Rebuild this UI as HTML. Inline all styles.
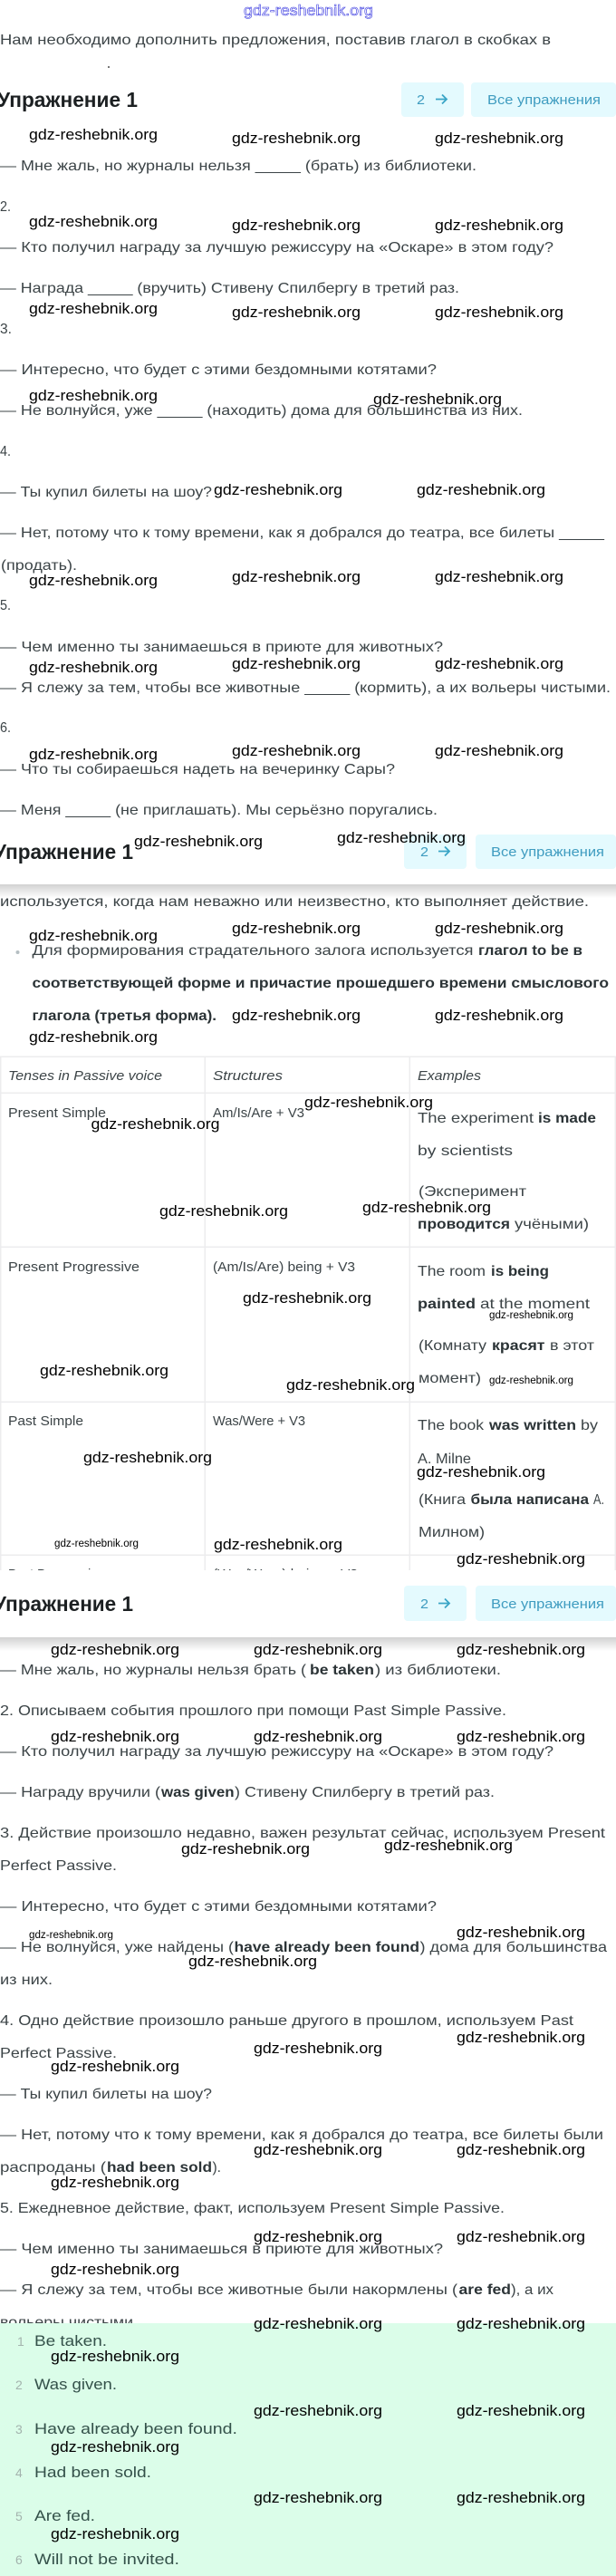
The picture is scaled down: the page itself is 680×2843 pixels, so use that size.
<!DOCTYPE html>
<html lang="ru"><head><meta charset="utf-8"><title>Упражнение 1</title>
<style>
html,body{margin:0;padding:0;background:#fff}
svg{display:block;font-family:"Liberation Sans",sans-serif}
.t{font-size:16px;fill:#3c4447}
.b{font-size:16px;font-weight:bold;fill:#2b3336}
.h{font-size:23px;font-weight:bold;fill:#1c2022}
.n{font-size:15px;fill:#3f9cc0}
.i{font-size:14.5px;font-style:italic;fill:#3c4447}
.c{font-size:14.5px;fill:#3c4447}
.g{font-size:17px;fill:#34514a}
.k{font-size:14px;fill:#a3b3ad}
.w{font-size:17px;fill:#000}
.s{font-size:11.5px;fill:#000}
.l{fill:#ececee}
.bx{fill:#e4fafe}
</style></head><body>
<svg xmlns="http://www.w3.org/2000/svg" width="680" height="2843" viewBox="0 0 680 2843">
<defs>
<linearGradient id="sh" x1="0" y1="0" x2="0" y2="1"><stop offset="0" stop-color="#d2d2d2"/><stop offset="1" stop-color="#fff"/></linearGradient>
<clipPath id="tc"><rect x="0" y="1160" width="680" height="573"/></clipPath>
<clipPath id="gc"><rect x="0" y="2540" width="680" height="24"/></clipPath>
</defs>
<rect width="680" height="2843" fill="#fff"/>
<text x="269" y="17" font-size="17" fill="#fff" stroke="#3a3ae0" stroke-width=".6" textLength="143" lengthAdjust="spacingAndGlyphs">gdz-reshebnik.org</text>

<text class="t" x="0" y="49" textLength="608" lengthAdjust="spacingAndGlyphs">Нам необходимо дополнить предложения, поставив глагол в скобках в</text>
<rect x="119" y="73" width="2" height="2" fill="#777"/>

<text class="h" x="-3" y="118" textLength="155" lengthAdjust="spacingAndGlyphs">Упражнение 1</text>
<rect class="bx" x="443" y="91" width="69" height="38" rx="4"/><rect class="bx" x="520" y="91" width="160" height="38" rx="4"/>
<text class="n" x="460" y="115" textLength="9" lengthAdjust="spacingAndGlyphs">2</text>
<path d="M481 109.500H493M488 104.500L493 109.500L488 114.500" fill="none" stroke="#3aa5c6" stroke-width="1.800"/>
<text class="n" x="538" y="115" textLength="125" lengthAdjust="spacingAndGlyphs">Все упражнения</text>

<text class="t" x="0" y="188" textLength="526" lengthAdjust="spacingAndGlyphs">— Мне жаль, но журналы нельзя _____ (брать) из библиотеки.</text>
<text class="t" x="0" y="233" textLength="12" lengthAdjust="spacingAndGlyphs">2.</text>
<text class="t" x="0" y="278" textLength="611" lengthAdjust="spacingAndGlyphs">— Кто получил награду за лучшую режиссуру на «Оскаре» в этом году?</text>
<text class="t" x="0" y="323" textLength="507" lengthAdjust="spacingAndGlyphs">— Награда _____ (вручить) Стивену Спилбергу в третий раз.</text>
<text class="t" x="0" y="368" textLength="13" lengthAdjust="spacingAndGlyphs">3.</text>
<text class="t" x="0" y="413" textLength="482" lengthAdjust="spacingAndGlyphs">— Интересно, что будет с этими бездомными котятами?</text>
<text class="t" x="0" y="458" textLength="577" lengthAdjust="spacingAndGlyphs">— Не волнуйся, уже _____ (находить) дома для большинства из них.</text>
<text class="t" x="0" y="503" textLength="12" lengthAdjust="spacingAndGlyphs">4.</text>
<text class="t" x="0" y="548" textLength="234" lengthAdjust="spacingAndGlyphs">— Ты купил билеты на шоу?</text>
<text class="t" x="0" y="593" textLength="667" lengthAdjust="spacingAndGlyphs">— Нет, потому что к тому времени, как я добрался до театра, все билеты _____</text>
<text class="t" x="1" y="629" textLength="84" lengthAdjust="spacingAndGlyphs">(продать).</text>
<text class="t" x="0" y="673" textLength="12" lengthAdjust="spacingAndGlyphs">5.</text>
<text class="t" x="0" y="719" textLength="489" lengthAdjust="spacingAndGlyphs">— Чем именно ты занимаешься в приюте для животных?</text>
<text class="t" x="0" y="764" textLength="674" lengthAdjust="spacingAndGlyphs">— Я слежу за тем, чтобы все животные _____ (кормить), а их вольеры чистыми.</text>
<text class="t" x="0" y="808" textLength="12" lengthAdjust="spacingAndGlyphs">6.</text>
<text class="t" x="0" y="854" textLength="436" lengthAdjust="spacingAndGlyphs">— Что ты собираешься надеть на вечеринку Сары?</text>
<text class="t" x="0" y="899" textLength="483" lengthAdjust="spacingAndGlyphs">— Меня _____ (не приглашать). Мы серьёзно поругались.</text>

<text class="h" x="-7" y="948" textLength="154" lengthAdjust="spacingAndGlyphs">Упражнение 1</text>
<rect class="bx" x="446" y="921" width="69" height="38" rx="4"/><rect class="bx" x="525" y="921" width="155" height="38" rx="4"/>
<text class="n" x="464" y="945" textLength="9" lengthAdjust="spacingAndGlyphs">2</text>
<path d="M484 939.500H496M491 934.500L496 939.500L491 944.500" fill="none" stroke="#3aa5c6" stroke-width="1.800"/>
<text class="n" x="542" y="945" textLength="125" lengthAdjust="spacingAndGlyphs">Все упражнения</text>
<rect x="0" y="976" width="680" height="15" fill="url(#sh)"/>

<text class="t" x="0" y="1000" textLength="650" lengthAdjust="spacingAndGlyphs">используется, когда нам неважно или неизвестно, кто выполняет действие.</text>
<circle cx="19.500" cy="1051" r="2" fill="#b5bec2"/>
<text class="t" x="35.500" y="1054" textLength="487" lengthAdjust="spacingAndGlyphs">Для формирования страдательного залога используется</text>
<text class="b" x="528" y="1054" textLength="115" lengthAdjust="spacingAndGlyphs">глагол to be в</text>
<text class="b" x="35.500" y="1090" textLength="636.500" lengthAdjust="spacingAndGlyphs">соответствующей форме и причастие прошедшего времени смыслового</text>
<text class="b" x="35.500" y="1126" textLength="203.500" lengthAdjust="spacingAndGlyphs">глагола (третья форма).</text>

<g clip-path="url(#tc)">
<rect class="l" x="0" y="1165.500" width="680" height="1.500"/>
<rect class="l" x="0" y="1205.500" width="680" height="1.500"/>
<rect class="l" x="0" y="1375.500" width="680" height="1.500"/>
<rect class="l" x="0" y="1546.500" width="680" height="1.500"/>
<rect class="l" x="0" y="1715.500" width="680" height="1.500"/>
<rect class="l" x="0" y="1166" width="1.500" height="567"/>
<rect class="l" x="225.500" y="1166" width="1.500" height="567"/>
<rect class="l" x="451.500" y="1166" width="1.500" height="567"/>
<rect class="l" x="678.500" y="1166" width="1.500" height="567"/>
<text class="i" x="9" y="1192" textLength="170" lengthAdjust="spacingAndGlyphs">Tenses in Passive voice</text>
<text class="i" x="235" y="1192" textLength="77" lengthAdjust="spacingAndGlyphs">Structures</text>
<text class="i" x="461" y="1192" textLength="70" lengthAdjust="spacingAndGlyphs">Examples</text>
<text class="c" x="9" y="1233" textLength="108" lengthAdjust="spacingAndGlyphs">Present Simple</text>
<text class="c" x="235" y="1233" textLength="101" lengthAdjust="spacingAndGlyphs">Am/Is/Are + V3</text>
<text class="t" x="461" y="1239" textLength="128" lengthAdjust="spacingAndGlyphs">The experiment</text>
<text class="b" x="594" y="1239" textLength="64" lengthAdjust="spacingAndGlyphs">is made</text>
<text class="t" x="461" y="1275" textLength="105" lengthAdjust="spacingAndGlyphs">by scientists</text>
<text class="t" x="462" y="1320" textLength="119" lengthAdjust="spacingAndGlyphs">(Эксперимент</text>
<text class="b" x="461" y="1356" textLength="102" lengthAdjust="spacingAndGlyphs">проводится</text>
<text class="t" x="568" y="1356" textLength="82" lengthAdjust="spacingAndGlyphs">учёными)</text>
<text class="c" x="9" y="1403" textLength="145" lengthAdjust="spacingAndGlyphs">Present Progressive</text>
<text class="c" x="235" y="1403" textLength="157" lengthAdjust="spacingAndGlyphs">(Am/Is/Are) being + V3</text>
<text class="t" x="461" y="1408" textLength="75" lengthAdjust="spacingAndGlyphs">The room</text>
<text class="b" x="542" y="1408" textLength="64" lengthAdjust="spacingAndGlyphs">is being</text>
<text class="b" x="461" y="1444" textLength="64" lengthAdjust="spacingAndGlyphs">painted</text>
<text class="t" x="530" y="1444" textLength="121" lengthAdjust="spacingAndGlyphs">at the moment</text>
<text class="t" x="462" y="1490" textLength="75" lengthAdjust="spacingAndGlyphs">(Комнату</text>
<text class="b" x="543" y="1490" textLength="58.500" lengthAdjust="spacingAndGlyphs">красят</text>
<text class="t" x="607" y="1490" textLength="49" lengthAdjust="spacingAndGlyphs">в этот</text>
<text class="t" x="462" y="1526" textLength="69" lengthAdjust="spacingAndGlyphs">момент)</text>
<text class="c" x="9" y="1573" textLength="83" lengthAdjust="spacingAndGlyphs">Past Simple</text>
<text class="c" x="235" y="1573" textLength="102" lengthAdjust="spacingAndGlyphs">Was/Were + V3</text>
<text class="t" x="461" y="1578" textLength="73" lengthAdjust="spacingAndGlyphs">The book</text>
<text class="b" x="540" y="1578" textLength="96" lengthAdjust="spacingAndGlyphs">was written</text>
<text class="t" x="641" y="1578" textLength="19" lengthAdjust="spacingAndGlyphs">by</text>
<text class="t" x="461" y="1615" textLength="59" lengthAdjust="spacingAndGlyphs">A. Milne</text>
<text class="t" x="462" y="1660" textLength="52" lengthAdjust="spacingAndGlyphs">(Книга</text>
<text class="b" x="519.500" y="1660" textLength="130.500" lengthAdjust="spacingAndGlyphs">была написана</text>
<text class="t" x="655" y="1660" textLength="12" lengthAdjust="spacingAndGlyphs">А.</text>
<text class="t" x="462" y="1696" textLength="73" lengthAdjust="spacingAndGlyphs">Милном)</text>
<text class="c" x="9" y="1742" textLength="106" lengthAdjust="spacingAndGlyphs">Past Progressive</text>
<text class="c" x="235" y="1742" textLength="160" lengthAdjust="spacingAndGlyphs">(Was/Were) being + V3</text>
</g>

<text class="h" x="-7" y="1778" textLength="154" lengthAdjust="spacingAndGlyphs">Упражнение 1</text>
<rect class="bx" x="446" y="1750" width="69" height="39" rx="4"/><rect class="bx" x="525" y="1750" width="155" height="39" rx="4"/>
<text class="n" x="464" y="1775" textLength="9" lengthAdjust="spacingAndGlyphs">2</text>
<path d="M484 1769.500H496M491 1764.500L496 1769.500L491 1774.500" fill="none" stroke="#3aa5c6" stroke-width="1.800"/>
<text class="n" x="542" y="1775" textLength="125" lengthAdjust="spacingAndGlyphs">Все упражнения</text>
<rect x="0" y="1807" width="680" height="15" fill="url(#sh)"/>

<text class="t" x="0" y="1848" textLength="338" lengthAdjust="spacingAndGlyphs">— Мне жаль, но журналы нельзя брать (</text>
<text class="b" x="342" y="1848" textLength="71" lengthAdjust="spacingAndGlyphs">be taken</text>
<text class="t" x="414" y="1848" textLength="139" lengthAdjust="spacingAndGlyphs">) из библиотеки.</text>
<text class="t" x="0" y="1893" textLength="559" lengthAdjust="spacingAndGlyphs">2. Описываем события прошлого при помощи Past Simple Passive.</text>
<text class="t" x="0" y="1938" textLength="611" lengthAdjust="spacingAndGlyphs">— Кто получил награду за лучшую режиссуру на «Оскаре» в этом году?</text>
<text class="t" x="0" y="1983" textLength="177" lengthAdjust="spacingAndGlyphs">— Награду вручили (</text>
<text class="b" x="178" y="1983" textLength="80.500" lengthAdjust="spacingAndGlyphs">was given</text>
<text class="t" x="259" y="1983" textLength="287" lengthAdjust="spacingAndGlyphs">) Стивену Спилбергу в третий раз.</text>
<text class="t" x="0" y="2028" textLength="668" lengthAdjust="spacingAndGlyphs">3. Действие произошло недавно, важен результат сейчас, используем Present</text>
<text class="t" x="0" y="2064" textLength="129" lengthAdjust="spacingAndGlyphs">Perfect Passive.</text>
<text class="t" x="0" y="2109" textLength="482" lengthAdjust="spacingAndGlyphs">— Интересно, что будет с этими бездомными котятами?</text>
<text class="t" x="0" y="2154" textLength="258" lengthAdjust="spacingAndGlyphs">— Не волнуйся, уже найдены (</text>
<text class="b" x="258.500" y="2154" textLength="204.500" lengthAdjust="spacingAndGlyphs">have already been found</text>
<text class="t" x="463.500" y="2154" textLength="206.500" lengthAdjust="spacingAndGlyphs">) дома для большинства</text>
<text class="t" x="0" y="2190" textLength="58" lengthAdjust="spacingAndGlyphs">из них.</text>
<text class="t" x="0" y="2235" textLength="633" lengthAdjust="spacingAndGlyphs">4. Одно действие произошло раньше другого в прошлом, используем Past</text>
<text class="t" x="0" y="2271" textLength="129" lengthAdjust="spacingAndGlyphs">Perfect Passive.</text>
<text class="t" x="0" y="2316" textLength="234" lengthAdjust="spacingAndGlyphs">— Ты купил билеты на шоу?</text>
<text class="t" x="0" y="2361" textLength="666" lengthAdjust="spacingAndGlyphs">— Нет, потому что к тому времени, как я добрался до театра, все билеты были</text>
<text class="t" x="0" y="2397" textLength="117" lengthAdjust="spacingAndGlyphs">распроданы (</text>
<text class="b" x="118" y="2397" textLength="116" lengthAdjust="spacingAndGlyphs">had been sold</text>
<text class="t" x="234.500" y="2397" textLength="9.500" lengthAdjust="spacingAndGlyphs">).</text>
<text class="t" x="0" y="2442" textLength="557" lengthAdjust="spacingAndGlyphs">5. Ежедневное действие, факт, используем Present Simple Passive.</text>
<text class="t" x="0" y="2487" textLength="489" lengthAdjust="spacingAndGlyphs">— Чем именно ты занимаешься в приюте для животных?</text>
<text class="t" x="0" y="2532" textLength="505" lengthAdjust="spacingAndGlyphs">— Я слежу за тем, чтобы все животные были накормлены (</text>
<text class="b" x="506.500" y="2532" textLength="57.500" lengthAdjust="spacingAndGlyphs">are fed</text>
<text class="t" x="564" y="2532" textLength="47" lengthAdjust="spacingAndGlyphs">), а их</text>
<g clip-path="url(#gc)"><text class="t" x="0" y="2568" textLength="152" lengthAdjust="spacingAndGlyphs">вольеры чистыми.</text></g>

<rect x="0" y="2564" width="680" height="279" fill="#dbfde9"/>
<text class="k" x="19" y="2589">1</text><text class="g" x="38" y="2589" textLength="80" lengthAdjust="spacingAndGlyphs">Be taken.</text>
<text class="k" x="17" y="2637">2</text><text class="g" x="38" y="2637" textLength="91" lengthAdjust="spacingAndGlyphs">Was given.</text>
<text class="k" x="17" y="2686">3</text><text class="g" x="38" y="2686" textLength="224" lengthAdjust="spacingAndGlyphs">Have already been found.</text>
<text class="k" x="17" y="2734">4</text><text class="g" x="38" y="2734" textLength="129" lengthAdjust="spacingAndGlyphs">Had been sold.</text>
<text class="k" x="17" y="2782">5</text><text class="g" x="38" y="2782" textLength="67" lengthAdjust="spacingAndGlyphs">Are fed.</text>
<text class="k" x="17" y="2830">6</text><text class="g" x="38" y="2830" textLength="160" lengthAdjust="spacingAndGlyphs">Will not be invited.</text>

<g class="wm">
<text class="w" x="32" y="154" textLength="142" lengthAdjust="spacingAndGlyphs">gdz-reshebnik.org</text>
<text class="w" x="256" y="158" textLength="142" lengthAdjust="spacingAndGlyphs">gdz-reshebnik.org</text>
<text class="w" x="480" y="158" textLength="142" lengthAdjust="spacingAndGlyphs">gdz-reshebnik.org</text>
<text class="w" x="32" y="250" textLength="142" lengthAdjust="spacingAndGlyphs">gdz-reshebnik.org</text>
<text class="w" x="256" y="254" textLength="142" lengthAdjust="spacingAndGlyphs">gdz-reshebnik.org</text>
<text class="w" x="480" y="254" textLength="142" lengthAdjust="spacingAndGlyphs">gdz-reshebnik.org</text>
<text class="w" x="32" y="346" textLength="142" lengthAdjust="spacingAndGlyphs">gdz-reshebnik.org</text>
<text class="w" x="256" y="350" textLength="142" lengthAdjust="spacingAndGlyphs">gdz-reshebnik.org</text>
<text class="w" x="480" y="350" textLength="142" lengthAdjust="spacingAndGlyphs">gdz-reshebnik.org</text>
<text class="w" x="32" y="442" textLength="142" lengthAdjust="spacingAndGlyphs">gdz-reshebnik.org</text>
<text class="w" x="412" y="446" textLength="142" lengthAdjust="spacingAndGlyphs">gdz-reshebnik.org</text>
<text class="w" x="236" y="546" textLength="142" lengthAdjust="spacingAndGlyphs">gdz-reshebnik.org</text>
<text class="w" x="460" y="546" textLength="142" lengthAdjust="spacingAndGlyphs">gdz-reshebnik.org</text>
<text class="w" x="32" y="646" textLength="142" lengthAdjust="spacingAndGlyphs">gdz-reshebnik.org</text>
<text class="w" x="256" y="642" textLength="142" lengthAdjust="spacingAndGlyphs">gdz-reshebnik.org</text>
<text class="w" x="480" y="642" textLength="142" lengthAdjust="spacingAndGlyphs">gdz-reshebnik.org</text>
<text class="w" x="32" y="742" textLength="142" lengthAdjust="spacingAndGlyphs">gdz-reshebnik.org</text>
<text class="w" x="256" y="738" textLength="142" lengthAdjust="spacingAndGlyphs">gdz-reshebnik.org</text>
<text class="w" x="480" y="738" textLength="142" lengthAdjust="spacingAndGlyphs">gdz-reshebnik.org</text>
<text class="w" x="32" y="838" textLength="142" lengthAdjust="spacingAndGlyphs">gdz-reshebnik.org</text>
<text class="w" x="256" y="834" textLength="142" lengthAdjust="spacingAndGlyphs">gdz-reshebnik.org</text>
<text class="w" x="480" y="834" textLength="142" lengthAdjust="spacingAndGlyphs">gdz-reshebnik.org</text>
<text class="w" x="148" y="934" textLength="142" lengthAdjust="spacingAndGlyphs">gdz-reshebnik.org</text>
<text class="w" x="372" y="930" textLength="142" lengthAdjust="spacingAndGlyphs">gdz-reshebnik.org</text>
<text class="w" x="32" y="1038" textLength="142" lengthAdjust="spacingAndGlyphs">gdz-reshebnik.org</text>
<text class="w" x="256" y="1030" textLength="142" lengthAdjust="spacingAndGlyphs">gdz-reshebnik.org</text>
<text class="w" x="480" y="1030" textLength="142" lengthAdjust="spacingAndGlyphs">gdz-reshebnik.org</text>
<text class="w" x="256" y="1126" textLength="142" lengthAdjust="spacingAndGlyphs">gdz-reshebnik.org</text>
<text class="w" x="480" y="1126" textLength="142" lengthAdjust="spacingAndGlyphs">gdz-reshebnik.org</text>
<text class="w" x="32" y="1150" textLength="142" lengthAdjust="spacingAndGlyphs">gdz-reshebnik.org</text>
<text class="w" x="336" y="1222" textLength="142" lengthAdjust="spacingAndGlyphs">gdz-reshebnik.org</text>
<text class="w" x="100.500" y="1246" textLength="142" lengthAdjust="spacingAndGlyphs">gdz-reshebnik.org</text>
<text class="w" x="176" y="1342" textLength="142" lengthAdjust="spacingAndGlyphs">gdz-reshebnik.org</text>
<text class="w" x="400" y="1338" textLength="142" lengthAdjust="spacingAndGlyphs">gdz-reshebnik.org</text>
<text class="w" x="268" y="1438" textLength="142" lengthAdjust="spacingAndGlyphs">gdz-reshebnik.org</text>
<text class="s" x="540" y="1455" textLength="93" lengthAdjust="spacingAndGlyphs">gdz-reshebnik.org</text>
<text class="w" x="44" y="1518" textLength="142" lengthAdjust="spacingAndGlyphs">gdz-reshebnik.org</text>
<text class="s" x="540" y="1527" textLength="93" lengthAdjust="spacingAndGlyphs">gdz-reshebnik.org</text>
<text class="w" x="316" y="1534" textLength="142" lengthAdjust="spacingAndGlyphs">gdz-reshebnik.org</text>
<text class="w" x="92" y="1614" textLength="142" lengthAdjust="spacingAndGlyphs">gdz-reshebnik.org</text>
<text class="w" x="460" y="1630" textLength="142" lengthAdjust="spacingAndGlyphs">gdz-reshebnik.org</text>
<text class="s" x="60" y="1707" textLength="93" lengthAdjust="spacingAndGlyphs">gdz-reshebnik.org</text>
<text class="w" x="236" y="1710" textLength="142" lengthAdjust="spacingAndGlyphs">gdz-reshebnik.org</text>
<text class="w" x="504" y="1726" textLength="142" lengthAdjust="spacingAndGlyphs">gdz-reshebnik.org</text>
<text class="w" x="56" y="1826" textLength="142" lengthAdjust="spacingAndGlyphs">gdz-reshebnik.org</text>
<text class="w" x="280" y="1826" textLength="142" lengthAdjust="spacingAndGlyphs">gdz-reshebnik.org</text>
<text class="w" x="504" y="1826" textLength="142" lengthAdjust="spacingAndGlyphs">gdz-reshebnik.org</text>
<text class="w" x="56" y="1922" textLength="142" lengthAdjust="spacingAndGlyphs">gdz-reshebnik.org</text>
<text class="w" x="280" y="1922" textLength="142" lengthAdjust="spacingAndGlyphs">gdz-reshebnik.org</text>
<text class="w" x="504" y="1922" textLength="142" lengthAdjust="spacingAndGlyphs">gdz-reshebnik.org</text>
<text class="w" x="200" y="2046" textLength="142" lengthAdjust="spacingAndGlyphs">gdz-reshebnik.org</text>
<text class="w" x="424" y="2042" textLength="142" lengthAdjust="spacingAndGlyphs">gdz-reshebnik.org</text>
<text class="s" x="32" y="2139" textLength="93" lengthAdjust="spacingAndGlyphs">gdz-reshebnik.org</text>
<text class="w" x="504" y="2138" textLength="142" lengthAdjust="spacingAndGlyphs">gdz-reshebnik.org</text>
<text class="w" x="208" y="2170" textLength="142" lengthAdjust="spacingAndGlyphs">gdz-reshebnik.org</text>
<text class="w" x="504" y="2254" textLength="142" lengthAdjust="spacingAndGlyphs">gdz-reshebnik.org</text>
<text class="w" x="280" y="2266" textLength="142" lengthAdjust="spacingAndGlyphs">gdz-reshebnik.org</text>
<text class="w" x="56" y="2286" textLength="142" lengthAdjust="spacingAndGlyphs">gdz-reshebnik.org</text>
<text class="w" x="280" y="2378" textLength="142" lengthAdjust="spacingAndGlyphs">gdz-reshebnik.org</text>
<text class="w" x="504" y="2378" textLength="142" lengthAdjust="spacingAndGlyphs">gdz-reshebnik.org</text>
<text class="w" x="56" y="2414" textLength="142" lengthAdjust="spacingAndGlyphs">gdz-reshebnik.org</text>
<text class="w" x="280" y="2474" textLength="142" lengthAdjust="spacingAndGlyphs">gdz-reshebnik.org</text>
<text class="w" x="504" y="2474" textLength="142" lengthAdjust="spacingAndGlyphs">gdz-reshebnik.org</text>
<text class="w" x="56" y="2510" textLength="142" lengthAdjust="spacingAndGlyphs">gdz-reshebnik.org</text>
<text class="w" x="280" y="2570" textLength="142" lengthAdjust="spacingAndGlyphs">gdz-reshebnik.org</text>
<text class="w" x="504" y="2570" textLength="142" lengthAdjust="spacingAndGlyphs">gdz-reshebnik.org</text>
<text class="w" x="56" y="2606" textLength="142" lengthAdjust="spacingAndGlyphs">gdz-reshebnik.org</text>
<text class="w" x="280" y="2666" textLength="142" lengthAdjust="spacingAndGlyphs">gdz-reshebnik.org</text>
<text class="w" x="504" y="2666" textLength="142" lengthAdjust="spacingAndGlyphs">gdz-reshebnik.org</text>
<text class="w" x="56" y="2706" textLength="142" lengthAdjust="spacingAndGlyphs">gdz-reshebnik.org</text>
<text class="w" x="280" y="2762" textLength="142" lengthAdjust="spacingAndGlyphs">gdz-reshebnik.org</text>
<text class="w" x="504" y="2762" textLength="142" lengthAdjust="spacingAndGlyphs">gdz-reshebnik.org</text>
<text class="w" x="56" y="2802" textLength="142" lengthAdjust="spacingAndGlyphs">gdz-reshebnik.org</text>
</g>
</svg>
</body></html>
